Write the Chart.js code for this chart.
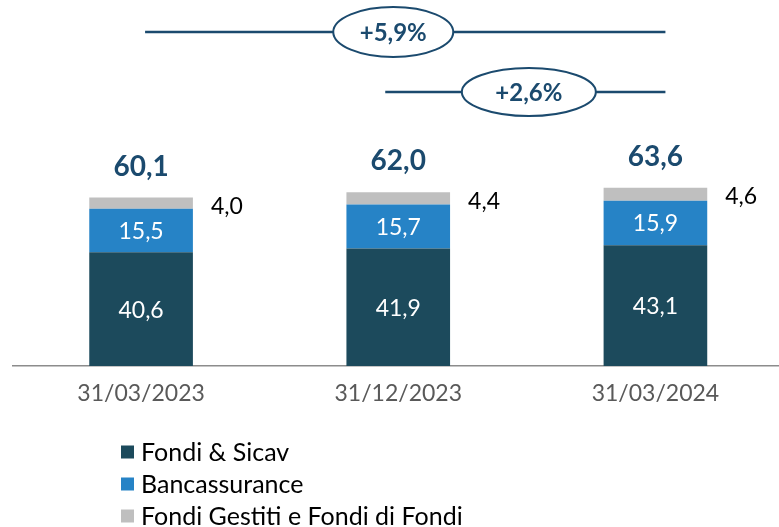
<!DOCTYPE html>
<html>
<head>
<meta charset="utf-8">
<script src="https://cdn.jsdelivr.net/npm/chart.js@4"></script>
<style>
  html, body { margin: 0; padding: 0; background: #fff; overflow: hidden; }
  #aumChart { display: block; }
</style>
</head>
<body>
<canvas id="aumChart" width="784" height="527"></canvas>
<script>
'use strict';

/* ---------- data ---------- */
const dates = ['31/03/2023', '31/12/2023', '31/03/2024'];
const fondiSicav = [40.6, 41.9, 43.1];
const bancassurance = [15.5, 15.7, 15.9];
const fondiGestiti = [4.0, 4.4, 4.6];
const totals = [60.1, 62.0, 63.6];
const seriesNames = ['Fondi & Sicav', 'Bancassurance', 'Fondi Gestiti e Fondi di Fondi'];
const growthLabels = ['+5,9%', '+2,6%'];

const colors = ['#1c4a5c', '#2683c6', '#bfbfbf'];
const navy = '#1b4a6e';
const fontFamily = 'Lato, "Open Sans", sans-serif';

// italian style decimal comma
function fmt(v) {
  return v.toFixed(1).replace('.', ',');
}

/* ---------- plugins ---------- */
const valueLabels = {
  id: 'valueLabels',
  afterDatasetsDraw(chart) {
    const ctx = chart.ctx;
    ctx.save();
    ctx.textBaseline = 'middle';
    chart.data.datasets.forEach((ds, di) => {
      const meta = chart.getDatasetMeta(di);
      meta.data.forEach((bar, i) => {
        const v = ds.data[i];
        if (di < 2) {
          ctx.fillStyle = '#ffffff';
          ctx.textAlign = 'center';
          ctx.font = '23px ' + fontFamily;
          ctx.fillText(fmt(v), bar.x, (bar.y + bar.base) / 2 + 1);
        } else {
          // small top segment: value sits to the right of the bar
          ctx.fillStyle = '#000000';
          ctx.textAlign = 'left';
          ctx.font = '23px ' + fontFamily;
          ctx.fillText(fmt(v), bar.x + bar.width / 2 + 18, bar.y + 9);
          // total above the stack
          ctx.fillStyle = navy;
          ctx.textAlign = 'center';
          ctx.font = 'bold 28px ' + fontFamily;
          ctx.fillText(fmt(totals[i]), bar.x, bar.y - 31);
        }
      });
    });
    ctx.restore();
  }
};

function growthBubble(ctx, x1, x2, cx, cy, rx, ry, text) {
  ctx.strokeStyle = navy;
  ctx.lineWidth = 2.5;
  ctx.beginPath();
  ctx.moveTo(x1, cy);
  ctx.lineTo(cx - rx, cy);
  ctx.moveTo(cx + rx, cy);
  ctx.lineTo(x2, cy);
  ctx.stroke();
  ctx.lineWidth = 2;
  ctx.beginPath();
  ctx.ellipse(cx, cy, rx, ry, 0, 0, Math.PI * 2);
  ctx.fillStyle = '#ffffff';
  ctx.fill();
  ctx.stroke();
  ctx.fillStyle = navy;
  ctx.font = 'bold 24px ' + fontFamily;
  ctx.textAlign = 'center';
  ctx.textBaseline = 'middle';
  ctx.fillText(text, cx, cy + 1);
}

const growthArrows = {
  id: 'growthArrows',
  afterDraw(chart) {
    const ctx = chart.ctx;
    const xs = chart.scales.x;
    const p0 = xs.getPixelForValue(0);
    const p1 = xs.getPixelForValue(1);
    const p2 = xs.getPixelForValue(2);
    ctx.save();
    growthBubble(ctx, p0 + 4, p2 + 10, p1 - 5, 32, 60, 25, growthLabels[0]);
    growthBubble(ctx, p1 - 13, p2 + 10, (p1 + p2) / 2 + 2, 92, 67, 24, growthLabels[1]);
    ctx.restore();
  }
};

const stackedLegend = {
  id: 'stackedLegend',
  afterDraw(chart) {
    const ctx = chart.ctx;
    ctx.save();
    ctx.font = '25px ' + fontFamily;
    ctx.textBaseline = 'middle';
    ctx.textAlign = 'left';
    seriesNames.forEach((name, i) => {
      const y = 452 + i * 32;
      ctx.fillStyle = colors[i];
      ctx.fillRect(121, y - 6.5, 13, 13);
      ctx.fillStyle = '#000000';
      ctx.fillText(name, 141, y + 1);
    });
    ctx.restore();
  }
};

/* ---------- chart ---------- */
const datasets = [fondiSicav, bancassurance, fondiGestiti].map((vals, i) => ({
  label: seriesNames[i],
  data: vals,
  backgroundColor: colors[i],
  borderWidth: 0,
  categoryPercentage: 1,
  barPercentage: 0.403
}));

new Chart(document.getElementById('aumChart'), {
  type: 'bar',
  data: { labels: dates, datasets: datasets },
  options: {
    responsive: false,
    animation: false,
    layout: { padding: { left: 12.5, right: 0, top: 0, bottom: 105.4 } },
    plugins: {
      legend: { display: false },
      tooltip: { enabled: false }
    },
    scales: {
      x: {
        stacked: true,
        grid: { display: false, drawTicks: false },
        border: { display: true, color: '#8c8c8c', width: 1.5 },
        ticks: {
          color: '#595959',
          padding: 14,
          font: { family: fontFamily, size: 23, lineHeight: 1.2 }
        }
      },
      y: {
        stacked: true,
        display: false,
        min: 0,
        max: 130.6
      }
    }
  },
  plugins: [valueLabels, growthArrows, stackedLegend]
});
</script>
</body>
</html>
